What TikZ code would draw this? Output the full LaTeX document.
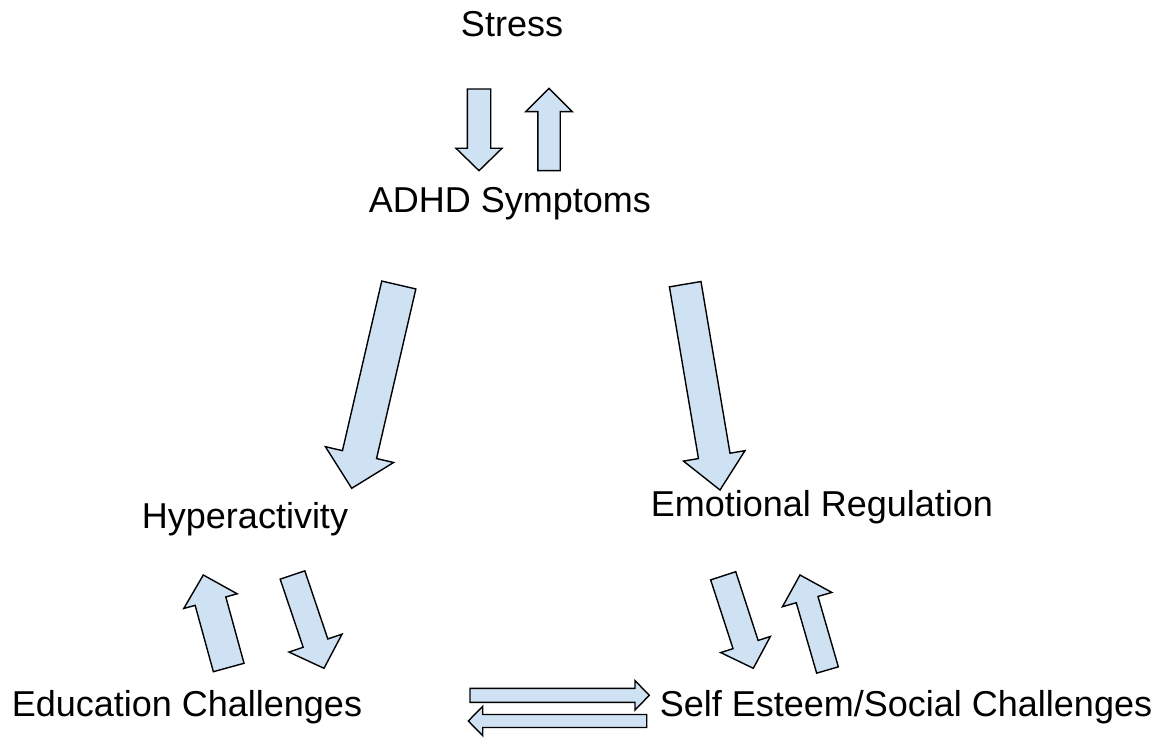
\documentclass[tikz,border=0pt]{standalone}
\usepackage{fontspec}
\setmainfont{Liberation Sans}
\usetikzlibrary{calc}
\definecolor{arrowfill}{HTML}{CFE2F3}
\tikzset{
  blockarrow/.style={draw=black, fill=arrowfill, line width=1.4pt, line join=miter},
  lbl/.style={anchor=base, inner sep=0pt, font=\fontsize{36}{43}\selectfont}
}
% #1 tail, #2 tip, #3 shaft half width, #4 head half width, #5 head length
\newcommand{\barrow}[5]{%
  \coordinate (hb) at ($(#2)!#5!(#1)$);
  \draw[blockarrow] ($(#1)!#3!90:(#2)$) -- ($(hb)!#3!-90:(#1)$) -- ($(hb)!#4!-90:(#1)$)
    -- (#2) -- ($(hb)!#4!90:(#1)$) -- ($(hb)!#3!90:(#1)$) -- ($(#1)!#3!-90:(#2)$) -- cycle;
}
\begin{document}
\begin{tikzpicture}[x=1pt,y=-1pt]
\useasboundingbox (0,0) rectangle (1173,738);
\node[lbl] (stress) at (512,37) {Stress};
\node[lbl] (adhd) at (510,213) {ADHD Symptoms};
\node[lbl] (hyper) at (245,528) {Hyperactivity};
\node[lbl] (emo) at (822,516) {Emotional Regulation};
\node[lbl] (edu) at (187,716) {Education Challenges};
\node[lbl] (self) at (906,716) {Self Esteem/Social Challenges};

\coordinate (t1) at (479,89);   \coordinate (p1) at (479,170.7);
\coordinate (t2) at (549,170.7); \coordinate (p2) at (549,88.3);
\coordinate (t3) at (398.8,285); \coordinate (p3) at (351.7,488.3);
\coordinate (t4) at (685.2,284.2); \coordinate (p4) at (720,490);
\coordinate (t5) at (228.7,667.5); \coordinate (p5) at (203.3,575);
\coordinate (t6) at (292.5,575); \coordinate (p6) at (324,668.3);
\coordinate (t7) at (470,695.3); \coordinate (p7) at (649.3,695.3);
\coordinate (t8) at (646.7,721); \coordinate (p8) at (468.3,721);
\coordinate (t9) at (723.2,575.8); \coordinate (p9) at (753.3,668.3);
\coordinate (t10) at (827.5,670); \coordinate (p10) at (800,575);

\barrow{t1}{p1}{11.7pt}{23pt}{22.4pt}
\barrow{t2}{p2}{11.2pt}{23.3pt}{23.4pt}
\barrow{t3}{p3}{17.5pt}{35pt}{34.6pt}
\barrow{t4}{p4}{16pt}{31.2pt}{34.6pt}
\barrow{t5}{p5}{15.9pt}{27.7pt}{27.1pt}
\barrow{t6}{p6}{13pt}{28pt}{26.6pt}
\barrow{t7}{p7}{7pt}{14.7pt}{14.3pt}
\barrow{t8}{p8}{6.5pt}{14.7pt}{14.4pt}
\barrow{t9}{p9}{13.2pt}{26.1pt}{25pt}
\barrow{t10}{p10}{11.3pt}{25.7pt}{25.6pt}
\end{tikzpicture}
\end{document}
